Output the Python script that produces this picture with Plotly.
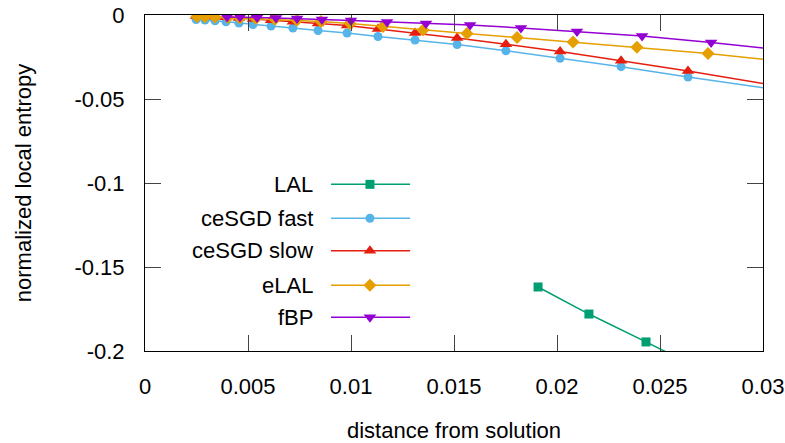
import plotly.graph_objects as go

# ---------------- data ----------------
lal_x = [0.01908, 0.02155, 0.02432, 0.0273]
lal_y = [-0.1619, -0.178, -0.1946, -0.2128]

cesgd_x = [0.00248, 0.00291, 0.0034, 0.00393, 0.00456, 0.00524, 0.00612, 0.00718, 0.0084,
           0.00981, 0.01131, 0.01311, 0.01515, 0.01752, 0.02015, 0.02311, 0.02636, 0.0318]
fast_y = [-0.00268, -0.00298, -0.00345, -0.00405, -0.00476, -0.00565, -0.00655, -0.00774, -0.00923,
          -0.01071, -0.0128, -0.01488, -0.01756, -0.02131, -0.02577, -0.03077, -0.0369, -0.04643]
slow_y = [-0.0006, -0.00077, -0.00101, -0.00137, -0.00179, -0.00238, -0.0031, -0.00399, -0.00506,
          -0.00625, -0.00833, -0.01071, -0.01369, -0.01744, -0.02173, -0.02726, -0.03333, -0.0444]

elal_x = [0.00252, 0.00291, 0.0034, 0.00403, 0.00461, 0.00539, 0.00631, 0.00738, 0.00854,
          0.00995, 0.01155, 0.0135, 0.01563, 0.01806, 0.02078, 0.02388, 0.02733, 0.03107]
elal_y = [-0.00089, -0.00107, -0.00125, -0.00149, -0.00179, -0.00214, -0.00256, -0.0031, -0.00387,
          -0.00506, -0.00685, -0.00893, -0.01101, -0.01339, -0.01607, -0.01923, -0.02292, -0.02768]

fbp_x = [0.00398, 0.00461, 0.00544, 0.00636, 0.00738, 0.00859, 0.01, 0.01175, 0.01364, 0.01578,
         0.01825, 0.02097, 0.02413, 0.02748, 0.03112]
fbp_y = [-0.00119, -0.00119, -0.00149, -0.00179, -0.00208, -0.00268, -0.00327, -0.00417, -0.00506,
         -0.00595, -0.00774, -0.00982, -0.0125, -0.01637, -0.0211]

series_names = ["LAL", "ceSGD fast", "ceSGD slow", "eLAL", "fBP"]
series_colors = ["#009e73", "#56b4e9", "#e51e10", "#e69f00", "#9400d3"]
series_symbols = ["square", "circle", "triangle-up", "diamond", "triangle-down"]
series_sizes = [9, 9, 11, 10, 11]
series_x = [lal_x, cesgd_x, cesgd_x, elal_x, fbp_x]
series_y = [lal_y, fast_y, slow_y, elal_y, fbp_y]

x_tickvals = [0, 0.005, 0.01, 0.015, 0.02, 0.025, 0.03]
x_ticktext = ["0", "0.005", "0.01", "0.015", "0.02", "0.025", "0.03"]
y_tickvals = [0, -0.05, -0.1, -0.15, -0.2]
y_ticktext = ["0", "-0.05", "-0.1", "-0.15", "-0.2"]

FONT = "Liberation Sans, Arial, sans-serif"
FS = 22

fig = go.Figure()
for name, c, s, ms, xs, ys in zip(series_names, series_colors, series_symbols, series_sizes, series_x, series_y):
    fig.add_trace(go.Scatter(x=xs, y=ys, mode="lines+markers", name=name,
                             line=dict(color=c, width=1.5),
                             marker=dict(symbol=s, size=ms, color=c),
                             showlegend=False))

# manual gnuplot-style legend (text on left, sample on right) on an overlay axis
leg_rows = [0.496, 0.395, 0.2985, 0.196, 0.1003]
for name, c, s, ms, ry in zip(series_names, series_colors, series_symbols, series_sizes, leg_rows):
    fig.add_trace(go.Scatter(x=[0.301, 0.429], y=[ry, ry], mode="lines", xaxis="x2", yaxis="y2",
                             line=dict(color=c, width=1.5), showlegend=False, hoverinfo="skip"))
    fig.add_trace(go.Scatter(x=[0.364], y=[ry], mode="markers", xaxis="x2", yaxis="y2",
                             marker=dict(symbol=s, size=ms, color=c), showlegend=False, hoverinfo="skip"))
    fig.add_annotation(x=0.275, y=ry, xref="x2", yref="y2", text=name, showarrow=False,
                       xanchor="right", yanchor="middle", font=dict(family=FONT, size=FS, color="black"))

axis_common = dict(showgrid=False, zeroline=False, showline=True, linecolor="black", linewidth=1,
                   mirror="ticks", ticks="inside", ticklen=16, tickcolor="#444", tickwidth=1,
                   automargin=False,
                   tickfont=dict(family=FONT, size=FS, color="black"))

fig.update_layout(
    width=785, height=443,
    margin=dict(l=145, r=22, t=15, b=92),
    plot_bgcolor="white", paper_bgcolor="white",
    xaxis=dict(range=[0, 0.03], tickvals=x_tickvals, ticktext=x_ticktext, ticklabelstandoff=16,
               title=dict(text="distance from solution", font=dict(family=FONT, size=FS, color="black"), standoff=35),
               **axis_common),
    yaxis=dict(range=[-0.2, 0], tickvals=y_tickvals, ticktext=y_ticktext, ticklabelstandoff=15,
               title=dict(text="normalized local entropy", font=dict(family=FONT, size=FS, color="black"), standoff=36),
               **axis_common),
    xaxis2=dict(range=[0, 1], overlaying="x", visible=False, fixedrange=True),
    yaxis2=dict(range=[0, 1], overlaying="y", visible=False, fixedrange=True),
)

fig.write_html("out.html")
